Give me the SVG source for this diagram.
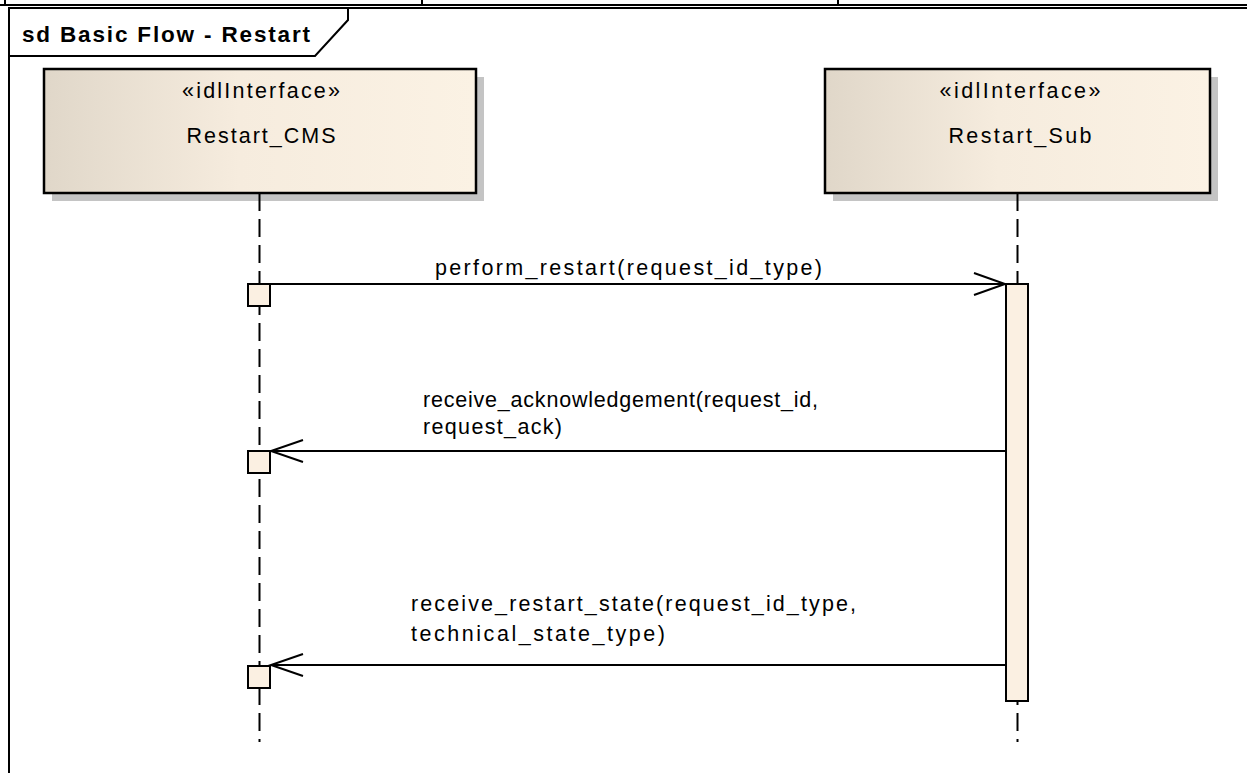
<svg xmlns="http://www.w3.org/2000/svg" width="1247" height="773" viewBox="0 0 1247 773">
<defs>
<linearGradient id="g" x1="0" y1="0" x2="1" y2="0">
<stop offset="0" stop-color="#e0d7c9"/>
<stop offset="0.45" stop-color="#f6ecde"/>
<stop offset="1" stop-color="#fbf2e4"/>
</linearGradient>
</defs>
<style>
text{font-family:"Liberation Sans",Arial,sans-serif;fill:#000}
.lbl{font-size:21.5px}
.hd{font-size:21.5px;text-anchor:middle}
.ttl{font-size:22.5px;font-weight:bold}
.ln{stroke:#000;stroke-width:2;fill:none}
.life{stroke:#000;stroke-width:2;stroke-dasharray:18 8;fill:none}
.act{fill:#fbf0e2;stroke:#000;stroke-width:2}
.box{fill:url(#g);stroke:#000;stroke-width:2.5}
.shadow{fill:#c4c4c4}
.msg{stroke:#000;stroke-width:2;fill:none}
</style>
<rect width="1247" height="773" fill="#fff"/>
<g id="frame">
<path class="ln" d="M0,5 H1247 M5,0 V5 M422,0 V5 M838,0 V5"/>
<path class="ln" d="M9,773 V8 H1247"/>
<path class="ln" d="M9,56 H315 L348,20 V8"/>
<text class="ttl" x="22" y="42" textLength="288" lengthAdjust="spacing">sd Basic Flow - Restart</text>
</g>
<g id="Restart_CMS">
<rect class="shadow" x="52" y="77" width="432" height="124"/>
<rect class="box" x="44" y="69" width="432" height="124"/>
<text class="hd" x="261" y="98" textLength="158" lengthAdjust="spacing">«idlInterface»</text>
<text class="hd" x="261" y="143" textLength="149" lengthAdjust="spacing">Restart_CMS</text>
<path class="life" d="M259.5,193 V742"/>
<rect class="act" x="248" y="284" width="22" height="22"/>
<rect class="act" x="248" y="451" width="22" height="22"/>
<rect class="act" x="248" y="666" width="22" height="22"/>
</g>
<g id="Restart_Sub">
<rect class="shadow" x="833" y="77" width="385" height="124"/>
<rect class="box" x="825" y="69" width="385" height="124"/>
<text class="hd" x="1020" y="98" textLength="161" lengthAdjust="spacing">«idlInterface»</text>
<text class="hd" x="1020" y="143" textLength="143" lengthAdjust="spacing">Restart_Sub</text>
<path class="life" d="M1017.5,193 V742"/>
<rect class="act" x="1006" y="284" width="22" height="417"/>
</g>
<g id="connectors">
<path class="msg" d="M271,284 H1005 M974,273 L1005,284 L974,295"/>
<text class="lbl" x="435" y="275" textLength="387" lengthAdjust="spacing">perform_restart(request_id_type)</text>
<path class="msg" d="M1006,451 H271 M303,440 L271,451 L303,462"/>
<text class="lbl" x="423" y="407" textLength="395" lengthAdjust="spacing">receive_acknowledgement(request_id,</text>
<text class="lbl" x="423" y="434" textLength="139" lengthAdjust="spacing">request_ack)</text>
<path class="msg" d="M1006,665 H271 M303,654 L271,665 L303,676"/>
<text class="lbl" x="411" y="611" textLength="445" lengthAdjust="spacing">receive_restart_state(request_id_type,</text>
<text class="lbl" x="411" y="641" textLength="254" lengthAdjust="spacing">technical_state_type)</text>
</g>
</svg>
